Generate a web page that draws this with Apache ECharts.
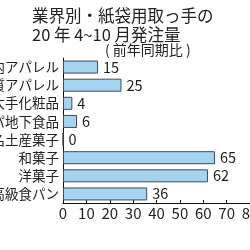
<!DOCTYPE html>
<html><head><meta charset="utf-8">
<script src="https://cdn.jsdelivr.net/npm/echarts@6/dist/echarts.min.js"></script>
<style>html,body{margin:0;padding:0;background:#fff}#c{width:250px;height:250px}</style>
</head><body><div id="c"></div>
<script>
const categories = ['国内アパレル','高品質アパレル','大手化粧品','デパ地下食品','有名土産菓子','和菓子','洋菓子','高級食パン'];
const values = [15,25,4,6,0,65,62,36];
const titleLine1 = '業界別・紙袋用取っ手の';
const titleLine2 = '20 年 4~10 月発注量';
const subtitle = '( 前年同期比 )';
const font = '"Noto Sans CJK JP", sans-serif';
const chart = echarts.init(document.getElementById('c'), null, {renderer:'canvas'});
chart.setOption({
  animation:false,
  title:[
    {text: titleLine1 + '\n' + titleLine2, left:27, top:1,
     textStyle:{fontFamily:font, fontSize:16.5, fontWeight:'normal', color:'#222', lineHeight:19}},
    {text: subtitle, left:100, top:38,
     textStyle:{fontFamily:font, fontSize:14, fontWeight:'normal', color:'#222'}}
  ],
  grid:{left:63, right:0, top:58, bottom:47, containLabel:false, outerBoundsMode:'none'},
  xAxis:{type:'value', min:0, max:80, interval:10,
    axisLine:{show:true, lineStyle:{color:'#111', width:1}},
    axisTick:{show:true, inside:true, length:3, lineStyle:{color:'#111'}},
    splitLine:{show:false},
    axisLabel:{fontFamily:font, fontSize:15, color:'#222', margin:3}},
  yAxis:{type:'category', data:categories, inverse:true,
    axisLine:{show:true, lineStyle:{color:'#111', width:1}},
    axisTick:{show:false},
    axisLabel:{fontFamily:font, fontSize:13.5, color:'#222', margin:4}},
  series:[{type:'bar', data:values, barWidth:13,
    itemStyle:{color:'#a5d4f1', borderColor:'#3d4c5c', borderWidth:1},
    label:{show:true, position:'right', distance:5, fontFamily:font, fontSize:14.5, color:'#222'}}]
});
</script></body></html>
